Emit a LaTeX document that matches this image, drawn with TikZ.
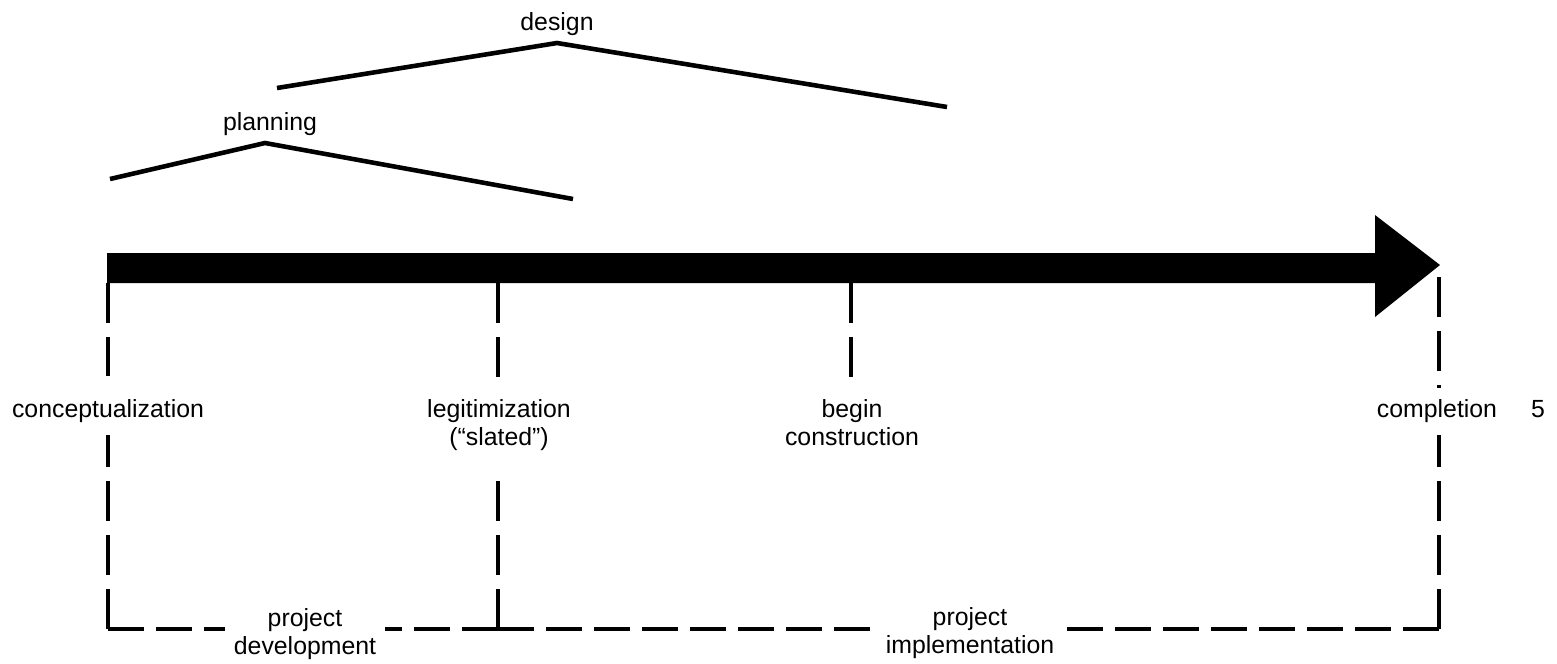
\documentclass[tikz,border=0pt]{standalone}
\usepackage{fontspec}
\setmainfont{Liberation Sans}
\begin{document}
\begin{tikzpicture}[x=0.01cm,y=-0.01cm,
  lbl/.style={inner sep=0pt, font=\fontsize{7.06pt}{7.97pt}\selectfont, align=center},
  rule/.style={line width=1.3pt},
  roof/.style={line width=1.3pt, line join=miter},
  vdash/.style={rule, dash pattern=on 0.40cm off 0.14cm},
  hdash/.style={rule, dash pattern=on 0.36cm off 0.12cm}]
\useasboundingbox (0,0) rectangle (1557,663);
% time arrow
\fill (107,253) -- (1375,253) -- (1375,215) -- (1440,265) -- (1375,317) -- (1375,283) -- (107,283) -- cycle;
\coordinate (t1) at (108,283);
\coordinate (t2) at (498,283);
\coordinate (t3) at (851,283);
\coordinate (t4) at (1439,277);
\coordinate (bl) at (108,629);
\coordinate (bm) at (498,629);
\coordinate (br) at (1439,629);
% phase roofs
\coordinate (pl) at (110,179);
\coordinate (pa) at (265,143);
\coordinate (pr) at (573,199);
\coordinate (dl) at (277,88);
\coordinate (da) at (557,43);
\coordinate (dr) at (947,107);
\draw[roof] (pl) -- (pa) -- (pr);
\draw[roof] (dl) -- (da) -- (dr);
\node[lbl, anchor=base] (design) at (557,30) {design};
\node[lbl, anchor=base] (planning) at (270,130) {planning};
% milestone labels
\node[lbl, anchor=base] (conc) at (108,417) {conceptualization};
\node[lbl, anchor=north] (legit) at (499,399) {legitimization\\(“slated”)};
\node[lbl, anchor=north] (begin) at (852,399) {begin\\construction};
\node[lbl, anchor=base] (compl) at (1437,417) {completion};
\node[lbl, anchor=base] (num) at (1538,417) {5};
\node[lbl, anchor=north] (dev) at (305,608) {project\\development};
\node[lbl, anchor=north] (impl) at (970,607) {project\\implementation};
% upper ticks
\draw[vdash, shorten >=0.22cm] (t1) -- (t1 |- conc.north);
\draw[vdash, shorten >=0.22cm] (t2) -- (t2 |- legit.north);
\draw[vdash, shorten >=0.22cm] (t3) -- (t3 |- begin.north);
\draw[vdash, shorten >=0.10cm] (t4) -- (t4 |- compl.north);
% lower frame
\draw[vdash, shorten >=0.12cm] (bl) -- (bl |- conc.south);
\draw[vdash, shorten >=0.20cm] (bm) -- (bm |- legit.south);
\draw[vdash, shorten >=0.12cm] (br) -- (br |- compl.south);
\draw[hdash, shorten >=0.08cm] (bl) -- (dev.west |- bl);
\draw[hdash, shorten >=0.08cm] (bm) -- (dev.east |- bm);
\draw[hdash, shorten >=0.08cm] (bm) -- (impl.west |- bm);
\draw[hdash, shorten >=0.08cm] (br) -- (impl.east |- br);
\end{tikzpicture}
\end{document}
